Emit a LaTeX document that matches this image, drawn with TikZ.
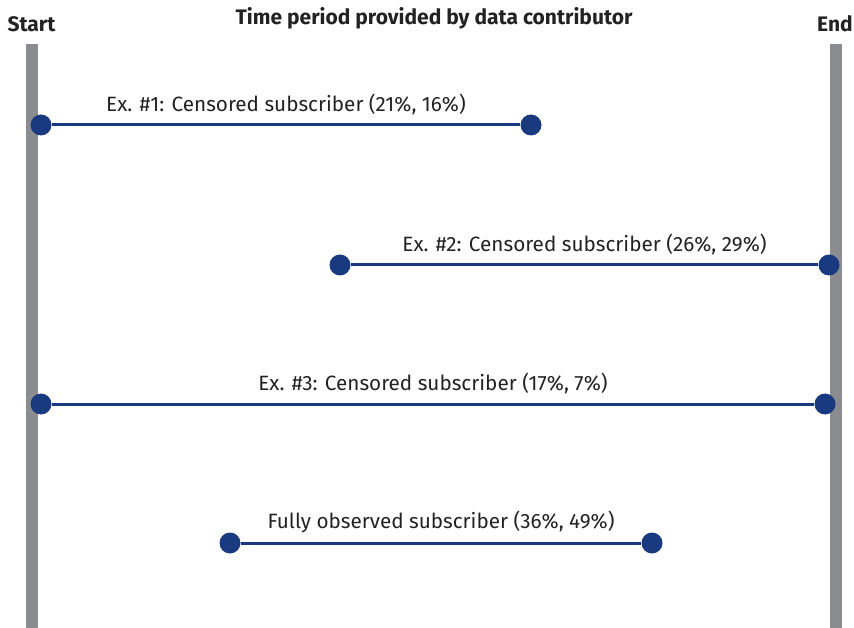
\documentclass[tikz,border=0pt]{standalone}
\usepackage{fontspec}
\setmainfont{Fira Sans}
\usetikzlibrary{positioning}
\definecolor{barGray}{HTML}{8A8C90}
\definecolor{dotBlue}{HTML}{1A3A80}
\definecolor{textGray}{HTML}{222222}

\begin{document}
\begin{tikzpicture}[
    x=1pt, y=-1pt,
    font=\fontsize{20.7}{24}\selectfont,
    bar/.style={
		rectangle,
		fill=barGray,
		inner sep=0pt,
		minimum width=12pt,
		minimum height=584pt
	},
	dot/.style={
		circle,
		fill=dotBlue,
		inner sep=0pt,
		minimum size=21pt
	},
	period/.style={
		draw=dotBlue,
		line width=3pt
	},
	caption/.style={
		text=textGray,
		inner sep=0pt,
		yshift=9pt
	},
	head/.style={
		text=textGray,
		font=\fontsize{21}{24}\selectfont\bfseries
	}
  ]

 \useasboundingbox (0,0) rectangle (854,628);

% // The two borders of the period
 \node [bar] (startbar) at (31.5,336) {};
 \node [bar] (endbar) at (836,336) {};
 \node [head] (start) at (31.5,24) {Start};
 \node [head] (end) at (835,24) {End};
 \node [head] (title) at (434,18) {Time period provided by data contributor};

% // Subscribers
 \node [dot] (ex1a) at (41,125) {};
 \node [dot] (ex1b) at (531,125) {};
 \node [dot] (ex2a) at (340,265) {};
 \node [dot] (ex2b) at (829,265) {};
 \node [dot] (ex3a) at (41,404) {};
 \node [dot] (ex3b) at (825,404) {};
 \node [dot] (fulla) at (230,543) {};
 \node [dot] (fullb) at (652,543) {};

 \draw [period] (ex1a) -- node [caption, above] {Ex. \#1: Censored subscriber (21\%, 16\%)} (ex1b);
 \draw [period] (ex2a) -- node [caption, above] {Ex. \#2: Censored subscriber (26\%, 29\%)} (ex2b);
 \draw [period] (ex3a) -- node [caption, above] {Ex. \#3: Censored subscriber (17\%, 7\%)} (ex3b);
 \draw [period] (fulla) -- node [caption, above] {Fully observed subscriber (36\%, 49\%)} (fullb);

\end{tikzpicture}
\end{document}
